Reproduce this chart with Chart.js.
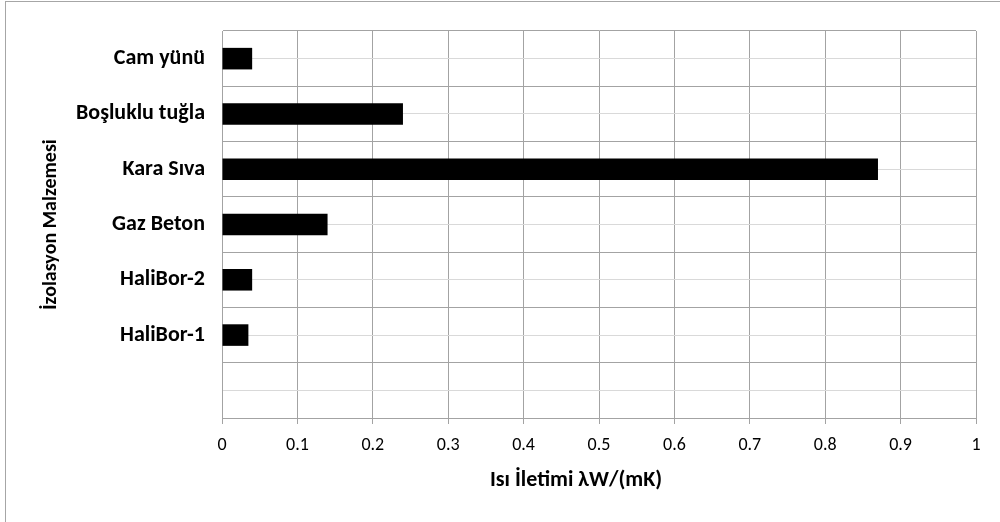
<!DOCTYPE html>
<html>
<head>
<meta charset="utf-8">
<script src="https://cdn.jsdelivr.net/npm/chart.js@4"></script>
<style>
  html, body { margin: 0; padding: 0; background: #fff; }
  #wrap { position: absolute; left: 0; top: 0; width: 1000px; height: 522px; }
</style>
</head>
<body>
<div id="wrap"><canvas id="myChart" width="1000" height="522"></canvas></div>
<script>
// Dados do gráfico
const malzemeler = ['Cam yünü', 'Boşluklu tuğla', 'Kara Sıva', 'Gaz Beton', 'HaliBor-2', 'HaliBor-1', ''];
const isiIletimi = [0.04, 0.24, 0.87, 0.14, 0.04, 0.035, null];
const eksenX = { min: 0, max: 1, adim: 0.1 };
const baslikX = 'Isı İletimi λW/(mK)';
const baslikY = 'İzolasyon Malzemesi';

const fonte = "Carlito, Calibri, Lato, 'Open Sans', sans-serif";
const cinzaEscuro = '#a3a3a3';
const cinzaClaro = '#d9d9d9';

// borda externa + título do eixo X
const extras = {
  id: 'extras',
  beforeDraw(chart) {
    const ctx = chart.ctx;
    ctx.save();
    ctx.strokeStyle = '#a6a6a6';
    ctx.lineWidth = 1;
    ctx.strokeRect(5.5, 1.5, 1000, 530);
    ctx.restore();
  },
  afterDraw(chart) {
    const ctx = chart.ctx;
    ctx.save();
    ctx.font = "bold 22px " + fonte;
    ctx.fillStyle = '#000';
    ctx.textAlign = 'center';
    ctx.textBaseline = 'middle';
    ctx.fillText(baslikX, 576, 480);
    ctx.restore();
  }
};

new Chart(document.getElementById('myChart'), {
  type: 'bar',
  data: {
    labels: malzemeler,
    datasets: [{
      data: isiIletimi,
      backgroundColor: '#000',
      borderWidth: 0,
      barPercentage: 0.39,
      categoryPercentage: 1
    }]
  },
  options: {
    indexAxis: 'y',
    responsive: false,
    animation: false,
    layout: { padding: { top: 31, right: 24, bottom: 0, left: 0 } },
    plugins: { legend: { display: false }, tooltip: { enabled: false } },
    scales: {
      x: {
        min: eksenX.min,
        max: eksenX.max,
        ticks: {
          stepSize: eksenX.adim,
          color: '#000',
          padding: 11,
          font: { family: fonte, size: 18 },
          callback: v => String(Math.round(v * 10) / 10)
        },
        grid: { color: cinzaEscuro, tickLength: 6, tickColor: cinzaEscuro },
        border: { color: cinzaEscuro },
        afterFit(s) { s.height = 104; }
      },
      y: {
        type: 'category',
        offset: true,
        ticks: { color: '#000', padding: 17, font: { family: fonte, size: 22, weight: 'bold' } },
        grid: { offset: true, color: cinzaEscuro, drawTicks: false },
        border: { color: cinzaEscuro },
        title: {
          display: true,
          text: baslikY,
          color: '#000',
          padding: { top: 39, bottom: 0 },
          font: { family: fonte, size: 20, weight: 'bold' }
        },
        afterFit(s) { s.width = 222; }
      },
      y2: {
        type: 'category',
        position: 'left',
        offset: true,
        labels: malzemeler,
        ticks: { display: false },
        grid: { offset: false, color: cinzaClaro, drawTicks: false },
        border: { display: false },
        afterFit(s) { s.width = 0; }
      }
    }
  },
  plugins: [extras]
});
</script>
</body>
</html>
